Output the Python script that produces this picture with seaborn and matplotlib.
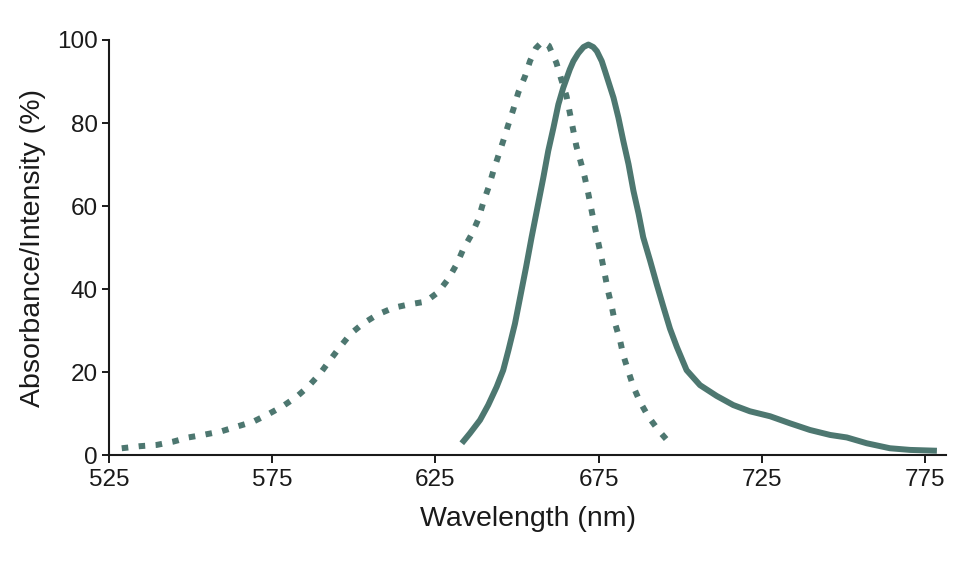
import pandas as pd
import seaborn as sns
import matplotlib
matplotlib.use("Agg")
import matplotlib.pyplot as plt

sns.set_theme(style="ticks")
plt.rcParams['font.family'] = ['Liberation Sans', 'DejaVu Sans']

line_color = "#4d7770"

# absorbance (dotted)
abs_nm = [528.9, 534.5, 539.6, 544.7, 549.3, 554.4, 559.5, 564.1, 569.2, 573.8,
          578.2, 582.5, 586.1, 589.7, 592.7, 595.8, 599.1, 602.8, 607.3, 612.1,
          616.7, 622.0, 625.9, 629.0, 631.6, 633.6, 636.2, 638.2, 639.7, 641.3,
          642.8, 644.3, 645.8, 647.4, 648.9, 650.4, 652.5, 654.0, 655.8, 657.8,
          659.8, 662.1, 663.6, 665.2, 666.2, 667.2, 668.2, 669.6, 670.8, 671.9,
          672.9, 673.9, 674.9, 676.0, 677.0, 678.0, 679.1, 680.1, 681.6, 682.6,
          684.2, 685.7, 687.7, 690.3, 693.3, 696.4]
abs_val = [1.7, 2.2, 2.5, 3.3, 4.3, 5.0, 5.8, 6.9, 8.1, 9.9,
           11.8, 14.1, 16.6, 19.7, 22.9, 26.1, 29.3, 31.7, 33.9, 35.5,
           36.3, 37.0, 39.3, 42.5, 46.1, 49.7, 53.3, 56.9, 60.9, 64.5,
           68.5, 72.1, 75.7, 79.7, 83.3, 87.3, 91.3, 94.9, 98.0, 99.6,
           98.6, 94.5, 90.5, 86.5, 82.5, 78.5, 74.5, 70.5, 66.9, 62.9,
           58.9, 54.9, 51.3, 47.3, 43.3, 39.3, 35.7, 31.7, 27.7, 24.1,
           20.1, 16.5, 12.9, 9.3, 6.1, 3.3]

# emission (solid)
em_nm = [633.1, 635.6, 638.7, 641.2, 643.8, 645.8, 647.4, 649.4, 651.0, 652.8,
         654.5, 656.3, 658.1, 659.6, 661.2, 662.7, 664.2, 666.2, 667.3, 668.8,
         670.4, 671.9, 673.4, 674.5, 676.0, 677.0, 679.6, 681.1, 682.6, 684.2,
         685.7, 687.3, 688.7, 690.8, 692.8, 694.9, 696.9, 699.0, 702.0, 706.1,
         711.2, 716.3, 721.4, 727.6, 733.7, 739.8, 746.0, 751.1, 757.2, 764.3,
         770.5, 778.7]
em_val = [2.9, 5.3, 8.5, 12.1, 16.5, 20.5, 25.3, 31.7, 38.1, 45.3,
          52.5, 59.7, 66.9, 73.3, 78.9, 84.5, 88.5, 92.9, 94.9, 96.8,
          98.3, 98.9, 98.3, 97.3, 94.9, 92.5, 86.1, 81.3, 75.7, 70.1,
          63.7, 58.1, 52.5, 46.9, 41.3, 35.7, 30.5, 26.1, 20.5, 16.9,
          14.3, 12.1, 10.6, 9.4, 7.7, 6.1, 4.9, 4.3, 2.9, 1.7,
          1.3, 1.1]

abs_df = pd.DataFrame({"nm": abs_nm, "val": abs_val})
em_df = pd.DataFrame({"nm": em_nm, "val": em_val})

fig = plt.figure(figsize=(9.75, 5.64), dpi=100)
ax = fig.add_axes([0.1118, 0.1927, 0.8585, 0.7364])

sns.lineplot(data=abs_df, x="nm", y="val", ax=ax, color=line_color,
             linewidth=4.3, linestyle=(0, (1.1, 1.75)))
sns.lineplot(data=em_df, x="nm", y="val", ax=ax, color=line_color,
             linewidth=4.3, solid_capstyle="butt", solid_joinstyle="round")

ax.set_xlim(525, 781.5)
ax.set_ylim(0, 100)
ax.set_xticks([525, 575, 625, 675, 725, 775])
ax.set_yticks([0, 20, 40, 60, 80, 100])
ax.set_xlabel("Wavelength (nm)", fontsize=20.5, color="#1a1a1a", labelpad=11)
ax.set_ylabel("Absorbance/Intensity (%)", fontsize=20.5, color="#1a1a1a", labelpad=8)
ax.tick_params(axis="both", labelsize=17.5, colors="#1a1a1a", width=1.4, direction="out")
ax.tick_params(axis="x", length=6, pad=4)
ax.tick_params(axis="y", length=5, pad=3)
for s in ["left", "bottom"]:
    ax.spines[s].set_linewidth(1.5)
    ax.spines[s].set_color("#1a1a1a")
sns.despine(ax=ax)

plt.savefig("out.png", dpi=100)
plt.close()
